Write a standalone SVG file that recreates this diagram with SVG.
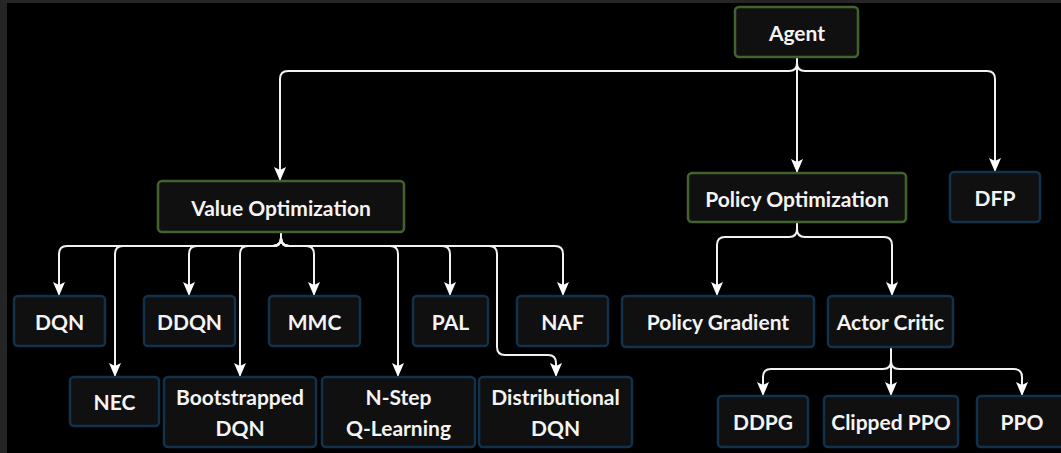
<svg xmlns="http://www.w3.org/2000/svg" width="1061" height="453" viewBox="0 0 1061 453">
  <defs>
    <marker id="arrow" viewBox="0 0 14 12" refX="14" refY="6" markerWidth="14" markerHeight="12" markerUnits="userSpaceOnUse" orient="auto">
      <path d="M0,0 L14,6 L0,12 L3,6 Z" fill="#ffffff"/>
    </marker>
    <style>
      .bg { fill: #000000; }
      .frame { fill: #252525; }
      .box { fill: #101010; stroke-width: 2.5; }
      .grp { stroke: #42632e; }
      .alg { stroke: #12324b; }
      .label { font-family: "Lato", "Liberation Sans", sans-serif; font-weight: bold; font-size: 21px; fill: #f4f4f4; text-anchor: middle; dominant-baseline: central; }
      .wire { fill: none; stroke: #f2f2f2; stroke-width: 2; marker-end: url(#arrow); }
    </style>
  </defs>

  <!-- backdrop -->
  <rect class="frame" x="0" y="0" width="1061" height="453"/>
  <rect class="bg" x="7" y="3" width="1054" height="450"/>

  <!-- connectors -->
  <g id="connectors">
    <!-- Agent -->
    <path class="wire" d="M797,57 V63 Q797,71 789,71 H288 Q280,71 280,79 V181"/>
    <path class="wire" d="M797,57 V173"/>
    <path class="wire" d="M797,57 V63 Q797,71 805,71 H987 Q995,71 995,79 V172"/>
    <!-- Value Optimization -->
    <path class="wire" d="M281,232 V238 Q281,246 273,246 H67 Q59,246 59,254 V296"/>
    <path class="wire" d="M281,232 V238 Q281,246 273,246 H123 Q115,246 115,254 V377"/>
    <path class="wire" d="M281,232 V238 Q281,246 273,246 H197 Q189,246 189,254 V296"/>
    <path class="wire" d="M281,232 V238 Q281,246 273,246 H248 Q240,246 240,254 V377"/>
    <path class="wire" d="M281,232 V238 Q281,246 289,246 H306 Q314,246 314,254 V296"/>
    <path class="wire" d="M281,232 V238 Q281,246 289,246 H390 Q398,246 398,254 V377"/>
    <path class="wire" d="M281,232 V238 Q281,246 289,246 H442 Q450,246 450,254 V296"/>
    <path class="wire" d="M281,232 V238 Q281,246 289,246 H489 Q497,246 497,254 V347 Q497,355 505,355 H548 Q556,355 556,363 V377"/>
    <path class="wire" d="M281,232 V238 Q281,246 289,246 H555 Q563,246 563,254 V296"/>
    <!-- Policy Optimization -->
    <path class="wire" d="M797,222 V229 Q797,237 789,237 H725 Q717,237 717,245 V296"/>
    <path class="wire" d="M797,222 V229 Q797,237 805,237 H884 Q892,237 892,245 V296"/>
    <!-- Actor Critic -->
    <path class="wire" d="M891,347 V361 Q891,369 883,369 H771 Q763,369 763,377 V396"/>
    <path class="wire" d="M891,347 V396"/>
    <path class="wire" d="M891,347 V361 Q891,369 899,369 H1014 Q1022,369 1022,377 V396"/>
  </g>

  <!-- root and groups -->
  <g id="agent">
    <rect class="box grp" x="735" y="7" width="123" height="50" rx="4"/>
    <text class="label" x="797" y="32">Agent</text>
  </g>
  <g id="value-optimization">
    <rect class="box grp" x="158" y="181" width="246" height="51" rx="4"/>
    <text class="label" x="281" y="207">Value Optimization</text>
  </g>
  <g id="policy-optimization">
    <rect class="box grp" x="688" y="173" width="218" height="49" rx="4"/>
    <text class="label" x="797" y="198">Policy Optimization</text>
  </g>
  <g id="dfp">
    <rect class="box alg" x="950" y="172" width="90" height="50" rx="4"/>
    <text class="label" x="995" y="197">DFP</text>
  </g>

  <!-- value-based algorithms -->
  <g id="dqn">
    <rect class="box alg" x="14" y="296" width="91" height="50" rx="4"/>
    <text class="label" x="59.5" y="321">DQN</text>
  </g>
  <g id="ddqn">
    <rect class="box alg" x="144" y="296" width="91" height="50" rx="4"/>
    <text class="label" x="189.5" y="321">DDQN</text>
  </g>
  <g id="mmc">
    <rect class="box alg" x="269" y="296" width="91" height="50" rx="4"/>
    <text class="label" x="314.5" y="321">MMC</text>
  </g>
  <g id="pal">
    <rect class="box alg" x="413" y="296" width="75" height="50" rx="4"/>
    <text class="label" x="450.5" y="321">PAL</text>
  </g>
  <g id="naf">
    <rect class="box alg" x="517" y="296" width="91" height="50" rx="4"/>
    <text class="label" x="562.5" y="321">NAF</text>
  </g>
  <g id="nec">
    <rect class="box alg" x="70" y="377" width="89" height="49" rx="4"/>
    <text class="label" x="114.5" y="401">NEC</text>
  </g>
  <g id="bootstrapped-dqn">
    <rect class="box alg" x="164" y="377" width="152" height="70" rx="4"/>
    <text class="label" x="240" y="396">Bootstrapped</text>
    <text class="label" x="240" y="427">DQN</text>
  </g>
  <g id="n-step-q-learning">
    <rect class="box alg" x="322" y="377" width="153" height="70" rx="4"/>
    <text class="label" x="398.5" y="396">N-Step</text>
    <text class="label" x="398.5" y="427">Q-Learning</text>
  </g>
  <g id="distributional-dqn">
    <rect class="box alg" x="479" y="377" width="153" height="70" rx="4"/>
    <text class="label" x="555.5" y="396">Distributional</text>
    <text class="label" x="555.5" y="427">DQN</text>
  </g>

  <!-- policy-based algorithms -->
  <g id="policy-gradient">
    <rect class="box alg" x="622" y="296" width="192" height="51" rx="4"/>
    <text class="label" x="718" y="321">Policy Gradient</text>
  </g>
  <g id="actor-critic">
    <rect class="box alg" x="828" y="296" width="125" height="51" rx="4"/>
    <text class="label" x="890.5" y="321">Actor Critic</text>
  </g>
  <g id="ddpg">
    <rect class="box alg" x="718" y="396" width="90" height="51" rx="4"/>
    <text class="label" x="763" y="421">DDPG</text>
  </g>
  <g id="clipped-ppo">
    <rect class="box alg" x="824" y="396" width="134" height="51" rx="4"/>
    <text class="label" x="891" y="421">Clipped PPO</text>
  </g>
  <g id="ppo">
    <rect class="box alg" x="977" y="396" width="90" height="51" rx="4"/>
    <text class="label" x="1022" y="421">PPO</text>
  </g>
</svg>
